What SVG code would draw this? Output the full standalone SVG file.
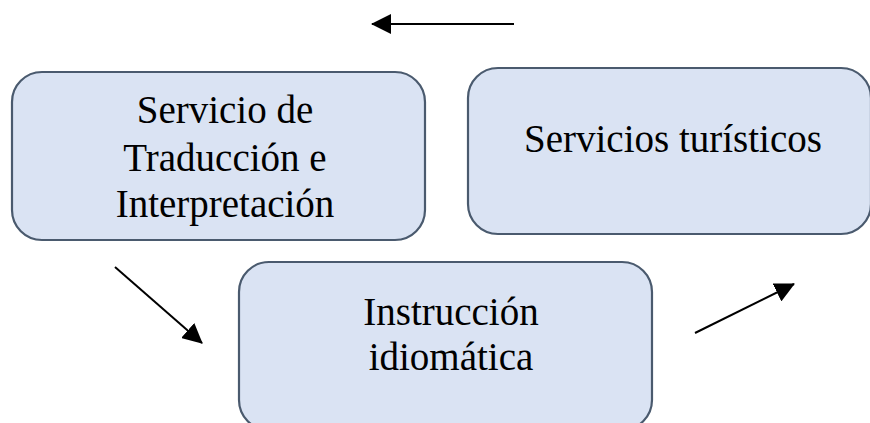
<svg xmlns="http://www.w3.org/2000/svg" width="870" height="423" viewBox="0 0 870 423">
<style>
.box{fill:#dae3f3;stroke:#4a5a6e;stroke-width:2.2}
.t{font-family:"Liberation Serif","Times New Roman",serif;font-size:39px;fill:#000;text-anchor:middle}
.c{stroke:#000;stroke-width:2;fill:none}
</style>
<defs>
<marker id="arr" viewBox="0 0 20 20" refX="19" refY="10" markerWidth="20" markerHeight="20" orient="auto" markerUnits="userSpaceOnUse">
<path d="M0,0 L20,10 L0,20 Z" fill="#000"/>
</marker>
</defs>
<rect width="870" height="423" fill="#fff"/>
<g id="node-traduccion">
<rect class="box" x="12" y="72" width="413" height="168" rx="30" ry="30"/>
<text class="t" x="225" y="123">Servicio de</text>
<text class="t" x="225" y="171">Traducción e</text>
<text class="t" x="225" y="217">Interpretación</text>
</g>
<g id="node-turisticos">
<rect class="box" x="468" y="68" width="403" height="166" rx="30" ry="30"/>
<text class="t" x="673" y="152">Servicios turísticos</text>
</g>
<g id="node-instruccion">
<rect class="box" x="239" y="262" width="413" height="168" rx="30" ry="30"/>
<text class="t" x="451" y="325">Instrucción</text>
<text class="t" x="451" y="370">idiomática</text>
</g>
<g id="connectors">
<line class="c" x1="514" y1="24" x2="372" y2="24" marker-end="url(#arr)"/>
<line class="c" x1="115" y1="267" x2="202" y2="343" marker-end="url(#arr)"/>
<line class="c" x1="695" y1="333" x2="794" y2="284" marker-end="url(#arr)"/>
</g>
</svg>
